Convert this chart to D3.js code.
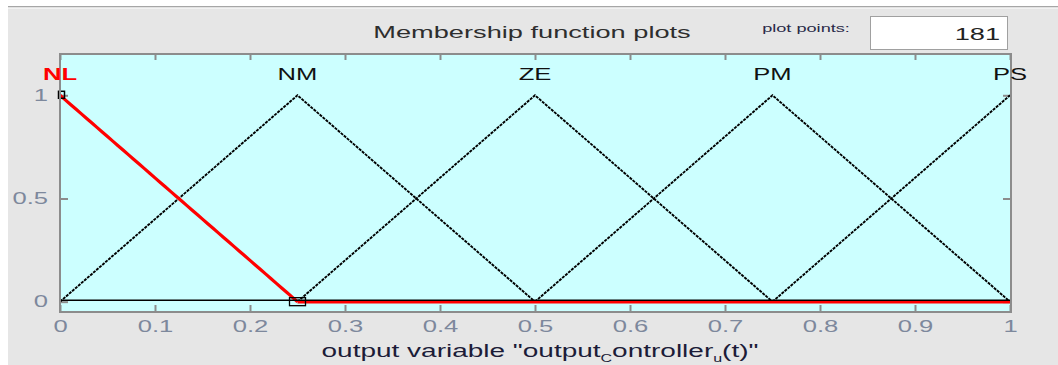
<!DOCTYPE html>
<html>
<head>
<meta charset="utf-8">
<script src="https://cdn.jsdelivr.net/npm/d3@7"></script>
<style>
  html, body { margin: 0; padding: 0; background: #ffffff; }
  svg { display: block; font-family: "Liberation Sans", Arial, sans-serif; }
</style>
</head>
<body>
<svg id="chart" width="1058" height="365"></svg>
<script>
// Membership functions of the output variable (triangular, on [0, 1])
const mfNames = ["NL", "NM", "ZE", "PM", "PS"];
const mfLeft   = [-0.25, 0.00, 0.25, 0.50, 0.75];
const mfPeak   = [0.00, 0.25, 0.50, 0.75, 1.00];
const mfRight  = [0.25, 0.50, 0.75, 1.00, 1.25];
const selectedMf = "NL";
const xTicks = [0, 0.1, 0.2, 0.3, 0.4, 0.5, 0.6, 0.7, 0.8, 0.9, 1];
const yTicks = [0, 0.5, 1];
const plotPoints = 181;

const svg = d3.select("#chart");
const W = 1058, H = 365;
const box = { left: 60, right: 1011, top: 54, bottom: 312 };
const SX = 1.6; // horizontal stretch of the editor's text

// text helper: positions a label then widens it horizontally
function label(parent, px, py, str, anchor, size, fill, weight, sx) {
  const t = parent.append("text")
    .attr("transform", `translate(${px},${py}) scale(${sx || SX},1)`)
    .attr("text-anchor", anchor).attr("font-size", size).attr("fill", fill);
  if (weight) t.attr("font-weight", weight);
  if (str !== null) t.text(str);
  return t;
}

// window background
svg.append("rect").attr("x", 0).attr("y", 0).attr("width", W).attr("height", H).attr("fill", "#ffffff");
svg.append("rect").attr("x", 8).attr("y", 9).attr("width", W - 8).attr("height", H - 9).attr("fill", "#e6e6e6");
svg.append("rect").attr("x", 8).attr("y", 6).attr("width", W - 8).attr("height", 1.5).attr("fill", "#a6a6a6");
svg.append("rect").attr("x", 8).attr("y", 7.5).attr("width", W - 8).attr("height", 1.5).attr("fill", "#f2f2f2");

// header
label(svg, 532, 38, "Membership function plots", "middle", 17, "#2e2e2e");
label(svg, 806, 32, "plot points:", "middle", 11, "#2a2a48", null, 1.65);
svg.append("rect").attr("x", 870.5).attr("y", 16.5).attr("width", 137).attr("height", 33)
  .attr("fill", "#ffffff").attr("stroke", "#a0a0a0").attr("stroke-width", 1);
label(svg, 1000, 40, String(plotPoints), "end", 17, "#222222");

// scales
const x = d3.scaleLinear().domain([0, 1]).range([box.left, box.right - 1]);
const y = d3.scaleLinear().domain([-0.05, 1.2]).range([box.bottom, box.top]);

// plot area
svg.append("rect").attr("x", box.left).attr("y", box.top)
  .attr("width", box.right - box.left).attr("height", box.bottom - box.top)
  .attr("fill", "#ccffff");

// axes with inward ticks
const axisColor = "#8c8c8c";
const labelColor = "#7d889c";
function styleAxis(g) {
  g.select(".domain").remove();
  g.selectAll(".tick line").attr("stroke", axisColor).attr("stroke-width", 2);
  g.selectAll(".tick text").attr("fill", labelColor).attr("font-size", 16)
    .attr("font-family", "'Liberation Sans', Arial, sans-serif")
    .attr("transform", `scale(${SX},1)`);
}
const xAxisBottom = d3.axisBottom(x).tickValues(xTicks).tickFormat(d3.format("")).tickSizeInner(-7).tickPadding(9);
svg.append("g").attr("transform", `translate(0,${box.bottom})`).call(xAxisBottom).call(styleAxis);
const xAxisTop = d3.axisTop(x).tickValues(xTicks).tickFormat("").tickSizeInner(-6);
svg.append("g").attr("transform", `translate(0,${box.top})`).call(xAxisTop).call(styleAxis);
const yAxisLeft = d3.axisLeft(y).tickValues(yTicks).tickFormat(d3.format("")).tickSizeInner(-8).tickPadding(7.5);
svg.append("g").attr("transform", `translate(${box.left},0)`).call(yAxisLeft).call(styleAxis);
const yAxisRight = d3.axisRight(y).tickValues(yTicks).tickFormat("").tickSizeInner(-8);
svg.append("g").attr("transform", `translate(${box.right},0)`).call(yAxisRight).call(styleAxis);

// membership curves sampled over the universe of discourse
function trimf(v, a, b, c) {
  if (v <= a || v >= c) return 0;
  return v <= b ? (b === a ? 1 : (v - a) / (b - a)) : (c === b ? 1 : (c - v) / (c - b));
}
const samples = d3.range(plotPoints).map(i => i / (plotPoints - 1));
const line = d3.line().x(d => x(d[0])).y(d => y(d[1]));

svg.append("clipPath").attr("id", "plotClip").append("rect")
  .attr("x", box.left - 2).attr("y", box.top).attr("width", box.right - box.left + 4).attr("height", box.bottom - box.top);
const plotG = svg.append("g").attr("clip-path", "url(#plotClip)");

mfNames.forEach((name, i) => {
  if (name === selectedMf) return;
  const pts = samples.map(v => [v, trimf(v, mfLeft[i], mfPeak[i], mfRight[i])])
    .filter(p => p[1] > 0 || Math.abs(p[0] - mfLeft[i]) < 0.003 || Math.abs(p[0] - mfRight[i]) < 0.003);
  plotG.append("path").attr("d", line(pts)).attr("fill", "none")
    .attr("stroke", "#000000").attr("stroke-width", 1.9).attr("stroke-dasharray", "3,1");
});
const si = mfNames.indexOf(selectedMf);
const selPts = samples.map(v => [v, trimf(v, mfLeft[si], mfPeak[si], mfRight[si])]);
plotG.append("path").attr("d", line(selPts.filter(p => p[0] <= mfRight[si] + 1e-9)))
  .attr("fill", "none").attr("stroke", "#ff0000").attr("stroke-width", 3.2);
plotG.append("path").attr("d", line([[mfRight[si], 0], [1, 0]]))
  .attr("fill", "none").attr("stroke", "#ff0000").attr("stroke-width", 3.5);
// black baseline over [0, 1]
plotG.append("path").attr("d", line([[0, 0], [1, 0]]))
  .attr("fill", "none").attr("stroke", "#000000").attr("stroke-width", 1.4)
  .attr("transform", "translate(0,-1.5)");

// vertex handles of the selected function
svg.append("rect").attr("x", x(mfPeak[si]) - 1.5).attr("y", y(1) - 4).attr("width", 6).attr("height", 7)
  .attr("fill", "none").attr("stroke", "#000000").attr("stroke-width", 1.5);
svg.append("rect").attr("x", x(mfRight[si]) - 8).attr("y", y(0) - 4).attr("width", 16).attr("height", 8)
  .attr("fill", "none").attr("stroke", "#000000").attr("stroke-width", 1.3);

// frame
svg.append("rect").attr("x", box.left).attr("y", box.top)
  .attr("width", box.right - box.left).attr("height", box.bottom - box.top)
  .attr("fill", "none").attr("stroke", axisColor).attr("stroke-width", 2);

// function names above their peaks
mfNames.forEach((name, i) => {
  const sel = name === selectedMf;
  label(svg, x(mfPeak[i]), 80, name, "middle", 16, sel ? "#ff0000" : "#111111", sel ? "bold" : null);
});

// x-axis title with subscripts
const title = label(svg, 540, 357, null, "middle", 17.5, "#1c1c38");
title.append("tspan").text('output variable "output');
title.append("tspan").attr("font-size", 10).attr("dy", 5).text("C");
title.append("tspan").attr("dy", -5).text("ontroller");
title.append("tspan").attr("font-size", 10).attr("dy", 5).text("u");
title.append("tspan").attr("dy", -5).text('(t)"');
</script>
</body>
</html>
